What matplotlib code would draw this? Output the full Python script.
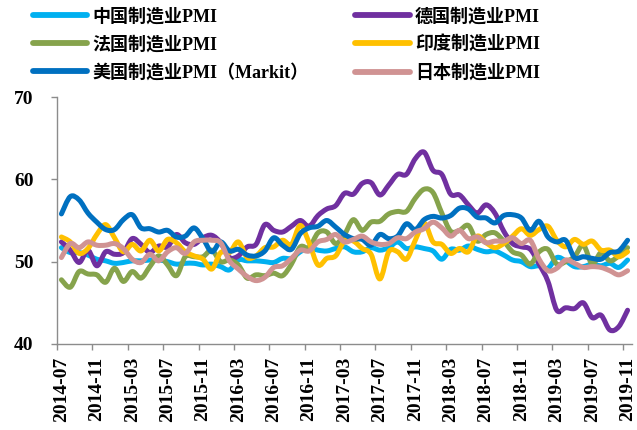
import matplotlib
matplotlib.use('Agg')
import numpy as np
import matplotlib.pyplot as plt
from matplotlib.path import Path
from matplotlib.patches import PathPatch
from matplotlib.lines import Line2D

# monthly, 2014-07 .. 2019-11
months = [f'{y}-{m:02d}' for y in range(2014, 2020) for m in range(1, 13)]
months = months[6:6 + 65]

china = [51.7, 51.1, 51.1, 50.8, 50.3, 50.1,
         49.8, 49.9, 50.1, 50.1, 50.2, 50.2, 50.0, 49.7, 49.8, 49.8, 49.6, 49.7,
         49.4, 49.0, 50.2, 50.1, 50.1, 50.0, 49.9, 50.4, 50.4, 51.2, 51.7, 51.4,
         51.3, 51.6, 51.8, 51.2, 51.2, 51.7, 51.4, 51.7, 52.4, 51.6, 51.8, 51.6,
         51.3, 50.3, 51.5, 51.4, 51.9, 51.5, 51.2, 51.3, 50.8, 50.2, 50.0, 49.4,
         49.5, 49.2, 50.5, 50.1, 49.4, 49.4, 49.7, 49.5, 49.8, 49.3, 50.2]
germany = [52.4, 51.4, 49.9, 51.4, 49.5, 51.2,
           50.9, 51.1, 52.8, 52.1, 51.1, 51.9, 51.8, 53.3, 52.3, 52.1, 52.9, 53.2,
           52.3, 50.5, 50.7, 51.8, 52.1, 54.5, 53.8, 53.6, 54.3, 55.0, 54.3, 55.6,
           56.4, 56.8, 58.3, 58.2, 59.5, 59.6, 58.1, 59.3, 60.6, 60.6, 62.5, 63.3,
           61.1, 60.6, 58.2, 58.1, 56.9, 55.9, 56.9, 55.9, 53.7, 52.2, 51.8, 51.5,
           49.7, 47.6, 44.1, 44.4, 44.3, 45.0, 43.2, 43.5, 41.7, 42.1, 44.1]
france = [47.8, 46.9, 48.8, 48.5, 48.4, 47.5,
          49.2, 47.6, 48.8, 48.0, 49.4, 50.7, 49.6, 48.3, 50.6, 50.6, 50.6, 51.4,
          50.0, 50.2, 49.6, 48.0, 48.4, 48.3, 48.6, 48.3, 49.7, 51.8, 51.7, 53.5,
          53.6, 52.2, 53.3, 55.1, 53.8, 54.8, 54.9, 55.8, 56.1, 56.1, 57.7, 58.8,
          58.4, 55.9, 53.7, 53.8, 54.4, 52.5, 53.3, 53.5, 52.5, 51.2, 50.8, 49.7,
          51.2, 51.5, 49.7, 50.0, 50.6, 52.0, 49.7, 51.1, 50.1, 50.7, 51.7]
india = [53.0, 52.4, 51.0, 51.6, 53.3, 54.5,
         52.9, 51.2, 52.1, 51.3, 52.6, 51.3, 52.7, 52.3, 51.2, 50.7, 50.3, 49.1,
         51.1, 51.1, 52.4, 50.5, 50.7, 51.7, 51.8, 52.6, 52.1, 54.4, 52.3, 49.6,
         50.4, 50.7, 52.5, 52.5, 51.6, 50.9, 47.9, 51.2, 51.2, 50.3, 52.6, 54.7,
         52.4, 52.1, 51.0, 51.6, 51.2, 53.1, 52.3, 51.7, 52.2, 53.1, 54.0, 53.2,
         53.9, 54.3, 52.6, 51.8, 52.7, 52.1, 52.5, 51.4, 51.4, 50.6, 51.2]
usa = [55.8, 57.9, 57.5, 55.9, 54.8, 53.9,
       53.9, 55.1, 55.7, 54.1, 54.0, 53.6, 53.8, 53.0, 53.1, 54.1, 52.8, 51.2,
       52.4, 51.3, 51.5, 50.8, 50.7, 51.3, 52.9, 52.0, 51.5, 53.4, 54.1, 54.3,
       55.0, 54.2, 53.3, 52.8, 52.7, 52.0, 53.3, 52.8, 53.1, 54.6, 53.9, 55.1,
       55.5, 55.3, 55.6, 56.5, 56.4, 55.4, 55.3, 54.7, 55.6, 55.7, 55.3, 53.8,
       54.9, 53.0, 52.4, 52.6, 50.5, 50.6, 50.4, 50.3, 51.1, 51.3, 52.6]
japan = [50.5, 52.2, 51.7, 52.4, 52.0, 52.0,
         52.2, 51.6, 50.3, 49.9, 50.9, 50.1, 51.2, 51.7, 51.0, 52.4, 52.6, 52.6,
         52.3, 50.1, 49.1, 48.2, 47.7, 48.1, 49.3, 49.5, 50.4, 51.4, 51.3, 52.4,
         52.7, 53.3, 52.4, 52.7, 53.1, 52.4, 52.1, 52.2, 52.9, 52.8, 53.6, 54.0,
         54.8, 54.1, 53.1, 53.8, 52.8, 53.0, 52.3, 52.5, 52.5, 52.9, 52.2, 52.6,
         50.3, 48.9, 49.2, 50.2, 49.8, 49.3, 49.4, 49.3, 48.9, 48.4, 48.9]

series = [
    ('中国制造业PMI', china, '#00B0F0'),
    ('德国制造业PMI', germany, '#7030A0'),
    ('法国制造业PMI', france, '#86A34C'),
    ('印度制造业PMI', india, '#FFC000'),
    ('美国制造业PMI（Markit）', usa, '#0070C0'),
    ('日本制造业PMI', japan, '#D09393'),
]


def smooth_path(xs, ys, t=1/6):
    # Excel-like smoothed line: cubic bezier through the data points
    pts = np.column_stack([xs, ys]).astype(float)
    n = len(pts)
    verts = [pts[0]]
    codes = [Path.MOVETO]
    for i in range(n - 1):
        p0 = pts[max(i - 1, 0)]
        p1 = pts[i]
        p2 = pts[i + 1]
        p3 = pts[min(i + 2, n - 1)]
        verts += [p1 + (p2 - p0) * t, p2 - (p3 - p1) * t, p2]
        codes += [Path.CURVE4] * 3
    return Path(verts, codes)


serif = ['Liberation Serif', 'Noto Sans CJK SC', 'DejaVu Sans']
plt.rcParams['font.family'] = serif
plt.rcParams['font.weight'] = 'bold'

fig = plt.figure(figsize=(6.37, 4.30), dpi=100)
ax = fig.add_axes([57 / 637, 0.2, 575 / 637, 247 / 430])

x = np.arange(len(months))
handles = {}
for name, vals, col in series:
    p = PathPatch(smooth_path(x, vals), fill=False, edgecolor=col, lw=3.6,
                  capstyle='round', joinstyle='round')
    ax.add_patch(p)
    handles[name] = Line2D([], [], color=col, lw=4.2, solid_capstyle='round')

ax.set_xlim(-0.5, len(months) - 0.5)
ax.set_ylim(40, 70)
ax.set_yticks([40, 50, 60, 70])

grey = '#8C8C8C'
for s in ['top', 'right']:
    ax.spines[s].set_visible(False)
for s in ['left', 'bottom']:
    ax.spines[s].set_color(grey)
    ax.spines[s].set_linewidth(1.0)

ax.set_xticks(np.arange(0, len(months), 4) - 0.5)
ax.set_xticklabels([])
ax.set_xticks(np.arange(0, len(months), 4), minor=True)
ax.set_xticklabels(months[::4], minor=True, rotation=90, fontsize=14,
                   fontweight='bold', va='top', ha='center')
ax.tick_params(axis='x', which='major', length=4, color=grey, width=1)
ax.tick_params(axis='x', which='minor', length=0, pad=9)
ax.tick_params(axis='y', length=4, color=grey, width=1, pad=13, labelsize=14)
for lab in ax.get_yticklabels():
    lab.set_fontweight('bold')

order = [series[i][0] for i in (0, 2, 4, 1, 3, 5)]
fig.legend([handles[k] for k in order], order, ncol=2, loc='upper left',
           bbox_to_anchor=(0.026, 1.02), frameon=False, handlelength=3.0,
           handletextpad=0.3, labelspacing=0.58, columnspacing=2.6,
           prop={'family': serif, 'weight': 'bold', 'size': 13})

fig.savefig('out.png', dpi=100)
